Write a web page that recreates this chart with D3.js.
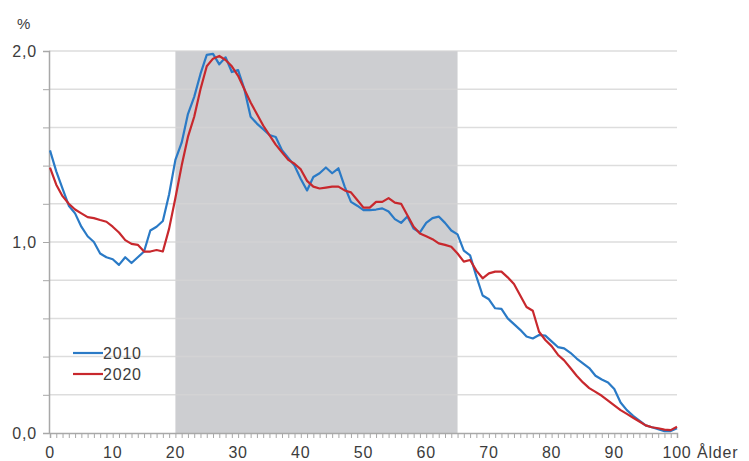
<!DOCTYPE html>
<html>
<head>
<meta charset="utf-8">
<script src="https://cdn.jsdelivr.net/npm/d3@7"></script>
<style>
body { margin:0; background:#fff; }
svg text { font-family: "Liberation Sans", Arial, sans-serif; fill:#3c3c3c; letter-spacing:0.8px; }
</style>
</head>
<body>
<svg id="chart"></svg>
<script>
var ages = d3.range(0, 101);

var values2010 = [1.48,1.37,1.28,1.19,1.15,1.08,1.03,1.00,0.94,0.92,
    0.91,0.88,0.92,0.89,0.92,0.95,1.06,1.08,1.11,1.25,
    1.43,1.52,1.67,1.76,1.88,1.98,1.985,1.93,1.967,1.89,
    1.90,1.80,1.656,1.62,1.59,1.56,1.55,1.48,1.44,1.40,
    1.33,1.27,1.34,1.36,1.39,1.36,1.386,1.29,1.21,1.19,
    1.167,1.167,1.17,1.176,1.16,1.12,1.10,1.133,1.07,1.05,
    1.10,1.125,1.133,1.10,1.06,1.04,0.955,0.93,0.82,0.72,
    0.70,0.653,0.65,0.60,0.57,0.54,0.505,0.495,0.513,0.51,
    0.48,0.45,0.443,0.42,0.39,0.365,0.34,0.30,0.28,0.265,
    0.23,0.16,0.12,0.09,0.065,0.04,0.03,0.02,0.01,0.01,
    0.025];

var values2020 = [1.39,1.30,1.24,1.20,1.17,1.15,1.13,1.125,1.115,1.106,
    1.08,1.05,1.01,0.99,0.985,0.95,0.95,0.958,0.95,1.07,
    1.23,1.40,1.55,1.656,1.80,1.92,1.96,1.974,1.953,1.92,
    1.87,1.80,1.73,1.67,1.61,1.56,1.51,1.47,1.43,1.41,
    1.38,1.32,1.29,1.28,1.285,1.29,1.29,1.27,1.26,1.22,
    1.18,1.18,1.21,1.21,1.23,1.206,1.20,1.14,1.08,1.045,
    1.03,1.015,0.993,0.985,0.975,0.94,0.897,0.906,0.85,0.81,
    0.836,0.845,0.845,0.815,0.78,0.72,0.66,0.64,0.53,0.487,
    0.455,0.41,0.38,0.34,0.30,0.265,0.235,0.215,0.195,0.17,
    0.145,0.12,0.10,0.08,0.06,0.04,0.03,0.025,0.018,0.015,
    0.033];

var seriesNames = ["2010", "2020"];
var seriesColors = ["#2a7ac6", "#c8282d"];
var shadeRange = [20, 65];
var xTicks = [0,10,20,30,40,50,60,70,80,90,100];
var yTicks = [0, 1, 2];
var yLabels = ["0,0", "1,0", "2,0"];
var gridSteps = d3.range(0.2, 2.01, 0.2);

var screen = {width:749, height:461};
var plot = {left:50, right:677, top:51, bottom:433};

var svg = d3.select("#chart")
    .attr("width", screen.width)
    .attr("height", screen.height);

var xScale = d3.scaleLinear()
    .domain([0, 100])
    .range([plot.left, plot.right]);

var yScale = d3.scaleLinear()
    .domain([0, 2])
    .range([plot.bottom, plot.top]);

// shaded working age band
svg.append("rect")
    .attr("x", xScale(shadeRange[0]))
    .attr("y", yScale(2))
    .attr("width", xScale(shadeRange[1]) - xScale(shadeRange[0]))
    .attr("height", yScale(0) - yScale(2))
    .attr("fill", "#cdced1");

// gridlines
svg.append("g")
    .selectAll("line")
    .data(gridSteps)
    .enter()
    .append("line")
    .attr("x1", plot.left - 1)
    .attr("x2", plot.right)
    .attr("y1", function(d) { return yScale(d); })
    .attr("y2", function(d) { return yScale(d); })
    .attr("stroke", "#d4d4d4")
    .attr("stroke-opacity", 0.8)
    .attr("stroke-width", 1.5);

// y axis
var yAxis = d3.axisLeft(yScale)
    .tickValues(d3.range(0, 2.01, 0.2))
    .tickSize(6)
    .tickFormat("");

svg.append("g")
    .attr("transform", "translate(" + (plot.left - 1) + ",0)")
    .call(yAxis)
    .call(function(g) {
        g.select(".domain").attr("stroke", "#a8a8a8").attr("stroke-width", 1.5);
        g.selectAll(".tick line").attr("stroke", "#a8a8a8");
    });

svg.append("g")
    .selectAll("text")
    .data(yTicks)
    .enter()
    .append("text")
    .text(function(d, i) { return yLabels[i]; })
    .attr("x", 37)
    .attr("y", function(d) { return yScale(d) + 6; })
    .attr("text-anchor", "end")
    .style("font-size", "16px");

svg.append("text")
    .text("%")
    .attr("x", 17)
    .attr("y", 29)
    .style("font-size", "15px");

// x axis with yearly ticks
var xAxis = d3.axisBottom(xScale)
    .tickValues(ages)
    .tickSize(5)
    .tickFormat("");

svg.append("g")
    .attr("transform", "translate(0," + plot.bottom + ")")
    .call(xAxis)
    .call(function(g) {
        g.select(".domain").attr("stroke", "#a8a8a8").attr("stroke-width", 1.5);
        g.selectAll(".tick line").attr("stroke", "#a8a8a8");
    });

svg.append("g")
    .selectAll("text")
    .data(xTicks)
    .enter()
    .append("text")
    .text(function(d) { return d; })
    .attr("x", function(d) { return xScale(d); })
    .attr("y", 458)
    .attr("text-anchor", "middle")
    .style("font-size", "16px");

svg.append("text")
    .text("Ålder")
    .attr("x", 697)
    .attr("y", 458)
    .style("font-size", "16px");

// lines
var line = d3.line()
    .x(function(d) { return xScale(d.age); })
    .y(function(d) { return yScale(d.value); });

var allSeries = [values2010, values2020];

allSeries.forEach(function(values, i) {
    var rows = ages.map(function(a, j) { return {age:a, value:values[j]}; });
    svg.append("path")
        .datum(rows)
        .attr("fill", "none")
        .attr("stroke", seriesColors[i])
        .attr("stroke-width", 2.2)
        .attr("stroke-linejoin", "round")
        .attr("d", line);
});

// legend
var legend = svg.append("g")
    .attr("transform", "translate(73,353)");

var entries = legend.selectAll("g")
    .data(seriesNames)
    .enter()
    .append("g")
    .attr("transform", function(d, i) { return "translate(0," + i * 21 + ")"; });

entries.append("line")
    .attr("x1", 0)
    .attr("x2", 30)
    .attr("stroke", function(d, i) { return seriesColors[i]; })
    .attr("stroke-width", 2.2);

entries.append("text")
    .text(function(d) { return d; })
    .attr("x", 30)
    .attr("y", 6)
    .style("font-size", "16px");
</script>
</body>
</html>
